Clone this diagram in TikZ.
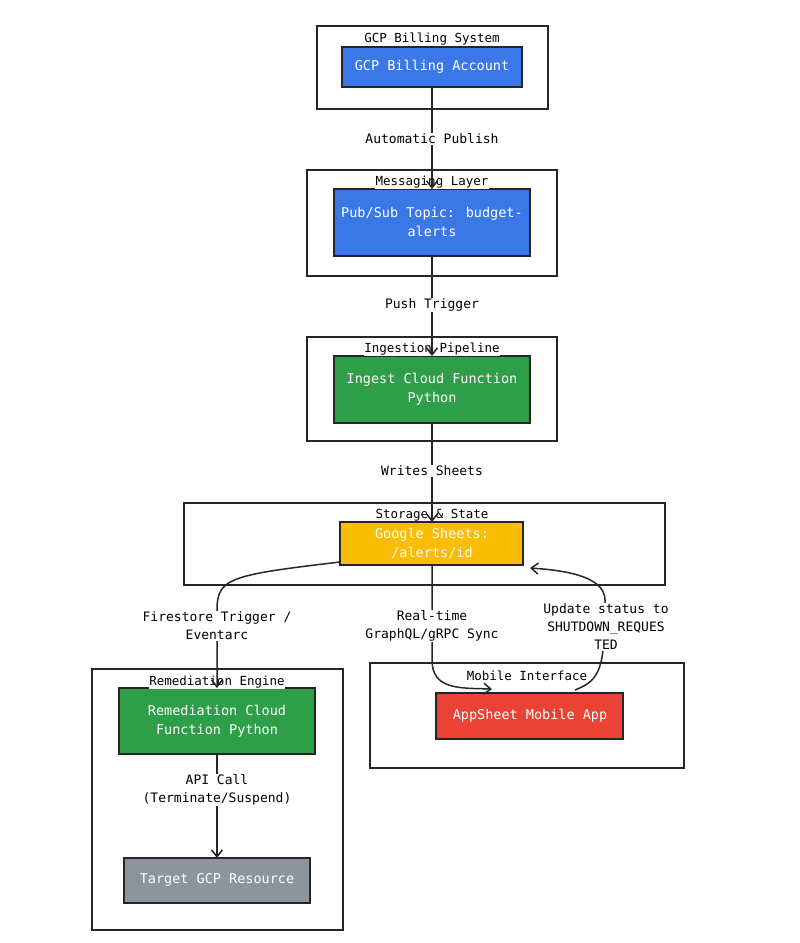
\documentclass[tikz,border=0pt]{standalone}
\usepackage{fontspec}
\setmainfont{DejaVu Sans Mono}
\usetikzlibrary{arrows.meta}
\definecolor{gblue}{HTML}{3B78E7}
\definecolor{ggreen}{HTML}{2E9E48}
\definecolor{gyellow}{HTML}{FBBC04}
\definecolor{gred}{HTML}{EA4335}
\definecolor{ggrey}{HTML}{8E949B}
\begin{document}
\begin{tikzpicture}[x=1pt,y=-1pt,
  font=\fontsize{13.5}{19}\selectfont,
  cluster/.style={draw=black!85,line width=1.5pt},
  box/.style={draw=black!85,line width=1.5pt,text=white,align=center},
  ctitle/.style={font=\fontsize{12.5}{14}\selectfont,fill=white,inner sep=0.5pt},
  lbl/.style={fill=white,align=center,inner sep=1pt,font=\fontsize{13}{18}\selectfont},
  con/.style={line width=1.5pt,draw=black!85},
  arr/.style={con,-{Straight Barb[length=7pt,width=11pt]}}]
\useasboundingbox (0,0) rectangle (800,943);
% clusters
\draw[cluster] (317,26) rectangle (548,109);
\draw[cluster] (307,170) rectangle (557,276);
\draw[cluster] (307,337) rectangle (557,441);
\draw[cluster] (184,503) rectangle (665,585);
\draw[cluster] (92,669) rectangle (343,930);
\draw[cluster] (370,663) rectangle (684,768);
% nodes
\draw[box,fill=gblue] (342,47) rectangle (522,87);
\node[text=white] (gba) at (432,67) {GCP Billing Account};
\draw[box,fill=gblue] (334,189) rectangle (530,256);
\node[text=white,align=center] (ps) at (432,222) {Pub/Sub Topic: budget-\\alerts};
\draw[box,fill=ggreen] (334,356) rectangle (530,423);
\node[text=white,align=center] (ing) at (432,389) {Ingest Cloud Function\\Python};
\draw[box,fill=gyellow] (340,522) rectangle (523,565);
\node[text=white,align=center] (gs) at (432,543) {Google Sheets:\\/alerts/id};
\draw[box,fill=ggreen] (119,688) rectangle (315,754);
\node[text=white,align=center] (rem) at (217,721) {Remediation Cloud\\Function Python};
\draw[box,fill=ggrey] (124,858) rectangle (310,903);
\node[text=white] (tgt) at (217,880) {Target GCP Resource};
\draw[box,fill=gred] (436,693) rectangle (623,739);
\node[text=white] (app) at (530,716) {AppSheet Mobile App};
% titles
\node[ctitle] (t1) at (432,39) {GCP Billing System};
\node[ctitle] (t2) at (432,182) {Messaging Layer};
\node[ctitle] (t3) at (432,349) {Ingestion Pipeline};
\node[ctitle] (t4) at (432,515) {Storage \& State};
\node[ctitle] (t5) at (217,682) {Remediation Engine};
\node[ctitle] (t6) at (527,676) {Mobile Interface};
% edges
\coordinate (a1) at (432,87); \coordinate (a2) at (432,189);
\draw[arr] (a1) -- (a2);
\node[lbl] at (432,139) {Automatic Publish};
\coordinate (b1) at (432,256); \coordinate (b2) at (432,356);
\draw[arr] (b1) -- (b2);
\node[lbl] at (432,305) {Push Trigger};
\coordinate (c1) at (432,423); \coordinate (c2) at (432,522);
\draw[arr] (c1) -- (c2);
\node[lbl] at (432,471) {Writes Sheets};
\coordinate (d1) at (340,562); \coordinate (d2) at (217,688);
\draw[arr] (d1) .. controls (230,575) and (217,578) .. (217,610) -- (d2);
\node[lbl] at (217,626) {Firestore Trigger /\\Eventarc};
\coordinate (e1) at (432,565); \coordinate (e2) at (492,689);
\draw[arr] (e1) -- (432,660) .. controls (432,690) and (460,688) .. (e2);
\node[lbl] at (432,626) {Real-time\\GraphQL/gRPC Sync};
\coordinate (f1) at (575,690); \coordinate (f2) at (530,568);
\draw[arr] (f1) .. controls (600,680) and (605,670) .. (605,600) .. controls (605,575) and (560,570) .. (f2);
\node[lbl] at (606,627) {Update status to\\SHUTDOWN\_REQUES\\TED};
\draw[arr] (217,754) -- (217,858);
\node[lbl] at (217,790) {API Call\\(Terminate/Suspend)};
\end{tikzpicture}
\end{document}
